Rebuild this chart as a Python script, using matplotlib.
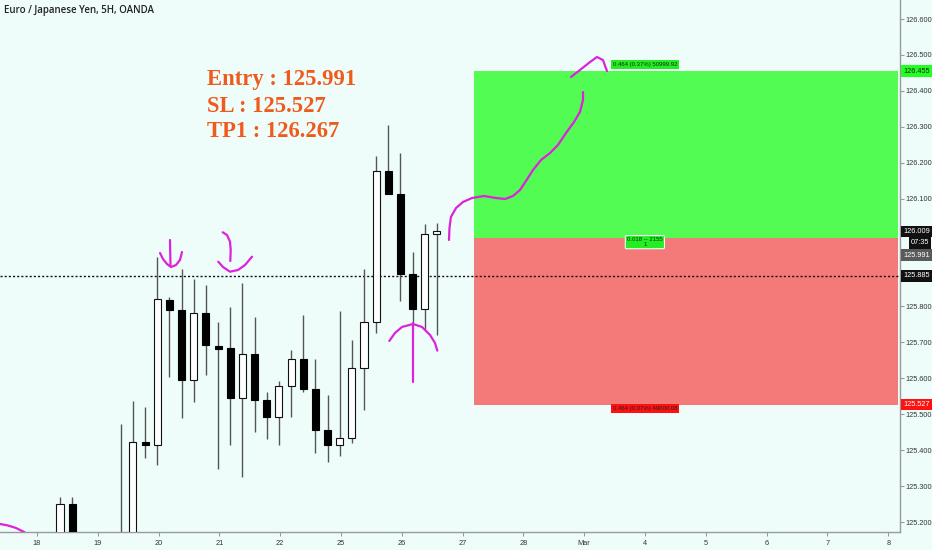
import matplotlib
matplotlib.use("Agg")
import matplotlib.pyplot as plt
from matplotlib.patches import Rectangle
import numpy as np

# ---------------- data ----------------
title = "Euro / Japanese Yen, 5H, OANDA"
# 5H candles (index 0 = first visible bar)
opens  = [125.140,125.250,125.150,125.080,125.100,125.120,125.160,125.424,125.414,125.818,
          125.790,125.595,125.782,125.691,125.683,125.544,125.669,125.540,125.493,125.579,
          125.653,125.571,125.455,125.414,125.434,125.630,125.756,126.177,126.113,125.890,
          125.793,126.003]
highs  = [125.271,125.271,125.160,125.120,125.160,125.473,125.538,125.521,125.937,125.827,
          125.903,125.876,125.860,125.757,125.799,125.866,125.770,125.561,125.593,125.679,
          125.775,125.653,125.553,125.787,125.707,125.903,126.219,126.305,126.226,125.951,
          126.029,126.031]
lows   = [125.120,125.130,125.060,125.020,125.050,125.100,125.140,125.377,125.359,125.603,
          125.489,125.535,125.610,125.348,125.414,125.326,125.450,125.432,125.414,125.493,
          125.563,125.391,125.368,125.383,125.419,125.512,125.725,126.113,125.816,125.753,
          125.734,125.720]
closes = [125.250,125.150,125.080,125.100,125.120,125.160,125.424,125.414,125.820,125.790,
          125.595,125.782,125.692,125.682,125.544,125.669,125.540,125.493,125.579,125.653,
          125.571,125.455,125.414,125.433,125.630,125.756,126.177,126.113,125.890,125.793,
          126.003,126.009]

day_labels = ['18','19','20','21','22','25','26','27','28','Mar','4','5','6','7','8']
price_ticks = [125.2,125.3,125.4,125.5,125.6,125.7,125.8,126.1,126.2,126.3,126.4,126.5,126.6]

entry, stop_loss, take_profit = 125.991, 125.527, 126.455
hline_price = 125.885
last_price = 126.009
countdown = "07:35"
note_lines = ["Entry : 125.991", "SL : 125.527", "TP1 : 126.267"]
label_top = "0.464 (0.37%) 50999.92"
label_mid = "0.018 -- 2155\n1"
label_bot = "0.464 (0.37%) 49000.08"

# hand drawn magenta strokes (bar index, price)
stroke_arc_x = [-4.934,-4.276,-3.618,-2.961,-2.632]
stroke_arc_y = [125.1945,125.1903,125.1834,125.1723,125.1639]
stroke_v1_x = [9.046,9.087]
stroke_v1_y = [125.985,125.9126]
stroke_u1_x = [8.224,8.470,8.799,9.128,9.539,9.868,10.033]
stroke_u1_y = [125.9487,125.9320,125.9181,125.9098,125.9153,125.9293,125.9515]
stroke_h2_x = [13.380,13.734,13.980,14.038,14.005]
stroke_h2_y = [126.0064,125.9989,125.9802,125.9571,125.9265]
stroke_u2_x = [13.018,13.405,13.980,14.638,15.214,15.789]
stroke_u2_y = [125.9245,125.9098,125.8967,125.9014,125.9153,125.9384]
stroke_a3_x = [27.08,27.55,28.13,29.03,29.77,30.43,30.84,31.03]
stroke_a3_y = [125.7039,125.7262,125.7429,125.7511,125.7429,125.7206,125.6983,125.6769]
stroke_v3_x = [29.00,29.00]
stroke_v3_y = [125.7531,125.5906]
stroke_big_x = [31.99,32.03,32.15,32.57,33.14,33.88,34.87,35.86,36.60,37.25,37.83,38.32,
                38.90,39.56,40.30,40.95,41.61,42.27,42.76,43.01,43.01]
stroke_big_y = [125.985,126.0184,126.0489,126.0740,126.0907,126.1018,126.1074,126.1018,
                126.0990,126.1074,126.1241,126.1491,126.1798,126.2076,126.2271,126.2493,
                126.2827,126.3133,126.3412,126.3747,126.3968]
stroke_top_x = [42.02,42.76,43.59,44.16,44.65,44.98]
stroke_top_y = [126.4386,126.4581,126.4803,126.4943,126.4859,126.4553]

# ---------------- layout ----------------
BG = '#effdfa'
MAG = '#dd22dd'
xlim = (-4.934, 69.08)
ylim = (125.1722, 126.6529)
first_tick = -1.89
bars_per_day = 5.0
pos_x0, pos_x1 = 34.05, 68.9
AXFS = 5.3

fig = plt.figure(figsize=(9.32, 5.5), dpi=100, facecolor=BG)
ax = fig.add_axes([0, 18/550, 900/932, 532/550], facecolor=BG)
ax.set_xlim(*xlim)
ax.set_ylim(*ylim)

for s in ['left', 'top']:
    ax.spines[s].set_visible(False)
for s in ['right', 'bottom']:
    ax.spines[s].set_color('#9a9a9a')
    ax.spines[s].set_linewidth(1.0)

tickfont = dict(family=['Liberation Sans', 'DejaVu Sans'])
ax.yaxis.tick_right()
ax.set_yticks(price_ticks)
ax.set_yticklabels([f"{p:.3f}" for p in price_ticks], fontsize=AXFS, color='#333333', **tickfont)
ax.set_xticks([first_tick + bars_per_day * k for k in range(len(day_labels))])
ax.set_xticklabels(day_labels, fontsize=AXFS, color='#333333', **tickfont)
ax.tick_params(axis='y', length=3, width=0.8, color='#9a9a9a', pad=1.2)
ax.tick_params(axis='x', length=3, width=0.8, color='#9a9a9a', pad=3)

# position tool rectangles
ax.add_patch(Rectangle((pos_x0, entry), pos_x1 - pos_x0, take_profit - entry,
                       facecolor='#52fc52', edgecolor='none', zorder=1))
ax.add_patch(Rectangle((pos_x0, stop_loss), pos_x1 - pos_x0, entry - stop_loss,
                       facecolor='#f47a7a', edgecolor='none', zorder=1))

# dotted horizontal line
ax.axhline(hline_price, color='#111111', lw=1.0, ls=(0, (1.5, 1.5)), zorder=2)

# candles
x = np.arange(len(opens))
o = np.array(opens); h = np.array(highs); l = np.array(lows); c = np.array(closes)
ax.vlines(x, l, h, color='#555555', lw=1.0, zorder=3)
up = c >= o
bottoms = np.minimum(o, c)
heights = np.maximum(np.abs(c - o), 0.003)
ax.bar(x[up], heights[up], bottom=bottoms[up], width=0.58, color='white',
       edgecolor='#111111', linewidth=0.8, zorder=4)
ax.bar(x[~up], heights[~up], bottom=bottoms[~up], width=0.58, color='#000000',
       edgecolor='#000000', linewidth=0.8, zorder=4)

# magenta freehand strokes
for sx, sy in [(stroke_arc_x, stroke_arc_y), (stroke_v1_x, stroke_v1_y),
               (stroke_u1_x, stroke_u1_y), (stroke_h2_x, stroke_h2_y),
               (stroke_u2_x, stroke_u2_y), (stroke_a3_x, stroke_a3_y),
               (stroke_v3_x, stroke_v3_y), (stroke_big_x, stroke_big_y),
               (stroke_top_x, stroke_top_y)]:
    ax.plot(sx, sy, color=MAG, lw=1.6, solid_capstyle='round', solid_joinstyle='round', zorder=6)

# annotation text
note_y = [126.4163, 126.342, 126.2708]
for t, yy in zip(note_lines, note_y):
    ax.text(12.06, yy, t, fontsize=16.3, fontweight='bold', family='Liberation Serif',
            color='#ef5b1c', va='baseline', ha='left', zorder=7)

# labels inside the position tool
lbl = dict(fontsize=4.3, ha='center', zorder=7, **tickfont)
ax.text(48.1, take_profit + 0.012, label_top, va='bottom', color='#222222',
        bbox=dict(boxstyle='square,pad=0.3', fc='#22ee22', ec='none'), **lbl)
ax.text(48.1, entry - 0.012, label_mid, va='center', color='#222222', linespacing=0.9,
        bbox=dict(boxstyle='round,pad=0.3,rounding_size=0.2', fc='#22ee22', ec='#e8fff0', lw=0.8), **lbl)
ax.text(48.1, stop_loss - 0.011, label_bot, va='center', color='#222222',
        bbox=dict(boxstyle='square,pad=0.3', fc='#ff1111', ec='none'), **lbl)

# right-axis price labels
ytr = ax.get_yaxis_transform()
def axis_label(price, text, fc, tc, xpos=1.004):
    ax.text(xpos, price, text, transform=ytr, fontsize=AXFS, color=tc, ha='left', va='center',
            clip_on=False, zorder=8,
            bbox=dict(boxstyle='square,pad=0.3', fc=fc, ec='none'), **tickfont)

axis_label(take_profit, f"{take_profit:.3f}", '#22ff22', '#222222')
axis_label(last_price, f"{last_price:.3f}", '#111111', 'white')
axis_label(last_price - 0.032, countdown, '#111111', 'white', xpos=1.012)
axis_label(entry - 0.048, f"{entry:.3f}", '#5a5a5a', 'white')
axis_label(hline_price, f"{hline_price:.3f}", '#111111', 'white')
axis_label(stop_loss, f"{stop_loss:.3f}", '#ff1111', 'white')

fig.text(4/932, 1 - 11/550, title, fontsize=7, color='#222222', ha='left', va='center',
         family=['Open Sans', 'DejaVu Sans'], fontweight='semibold')

fig.savefig('out.png', dpi=100, facecolor=BG)
